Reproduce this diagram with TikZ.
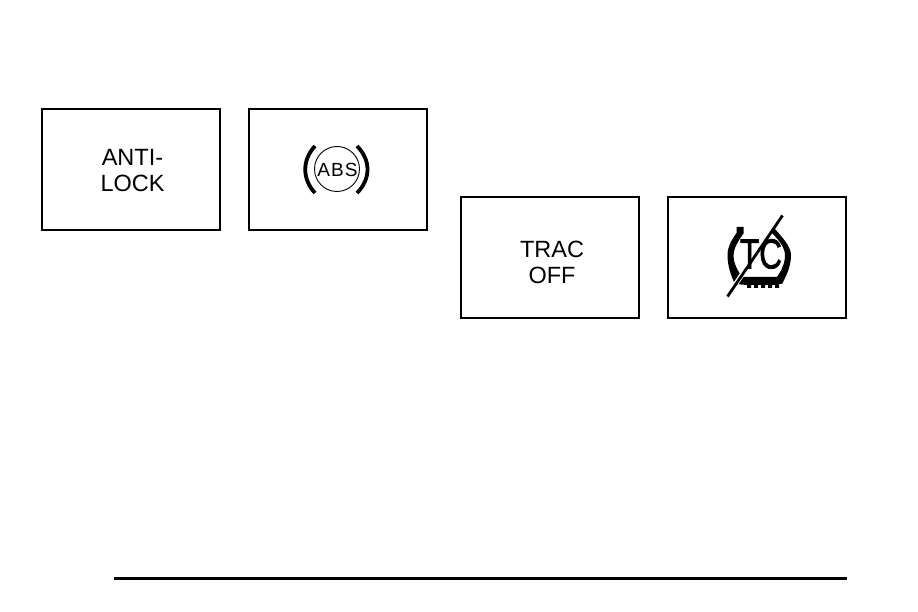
\documentclass[tikz,border=0pt]{standalone}
\usepackage{fontspec}
\setmainfont{Liberation Sans}
\newfontfamily\heavytc[FakeBold=1.6]{Liberation Sans}
\tikzset{panel/.style={draw=black,line width=1.3pt,fill=white,minimum width=178pt,minimum height=121pt,inner sep=0pt},
lbl/.style={font=\fontsize{23.5}{26}\selectfont,align=center,inner sep=0pt,text=black},
paren/.style={line width=3.8pt,line cap=butt}}
\begin{document}
\begin{tikzpicture}[x=1pt,y=-1pt]
\useasboundingbox (0,0) rectangle (918,612);
\fill[white] (0,0) rectangle (918,612);
\node[panel] (a) at (131,169.5) {};
\node[panel] (b) at (338,169.5) {};
\node[panel] (c) at (550,257.5) {};
\node[panel] (d) at (757,257.5) {};
\node[lbl] (at) at (132.5,171) {ANTI-\\LOCK};
\node[lbl] (ct) at (552,262) {TRAC\\OFF};
% ABS
\node[circle,draw=black,line width=0.9pt,minimum size=45pt,inner sep=0pt] (abs) at (337,169) {};
\node[inner sep=0pt,font=\fontsize{19}{20}\selectfont] (abst) at (337.5,170) {A\kern1pt B\kern1pt S};
\draw[paren] (315,146) .. controls (302,160) and (302,179) .. (315,193);
\draw[paren] (357,146) .. controls (371,160) and (371,179) .. (357,193);
% TC tire
\fill[black] (736.5,227) -- (743.5,227) -- (743.5,233.5)
 .. controls (738,241) and (733.5,249) .. (733.5,255)
 .. controls (733.5,264) and (738,271) .. (742,277)
 -- (777,277)
 .. controls (781,271) and (785,264) .. (785,255)
 .. controls (785,247) and (777,238) .. (771,232)
 -- (775,229)
 .. controls (783,238) and (791,247) .. (791,255)
 .. controls (791,267) and (786,276) .. (782,284)
 -- (779,284) -- (779,288) -- (775,288) -- (775,285) -- (772,285) -- (772,288) -- (768,288) -- (768,285) -- (765,285) -- (765,288) -- (761,288) -- (761,285) -- (758,285) -- (758,288) -- (754,288) -- (754,285) -- (751,285) -- (751,288) -- (747,288) -- (747,285) -- (735,284)
 .. controls (731,276) and (727.5,266) .. (727.5,255)
 .. controls (727.5,246) and (733,238) .. (736.5,233) -- cycle;
\node[inner sep=0pt,font=\heavytc\fontsize{42}{44}\selectfont,xscale=0.75] (tc) at (761,254) {TC};
\draw[draw=white,line width=5pt] (731,291) -- (745,270);
\draw[black,line width=2.8pt] (727.5,296.5) -- (782.5,215.5);
% rule
\coordinate (r1) at (114,578.5);
\coordinate (r2) at (847,578.5);
\draw[black,line width=3pt] (r1) -- (r2);
\end{tikzpicture}
\end{document}
